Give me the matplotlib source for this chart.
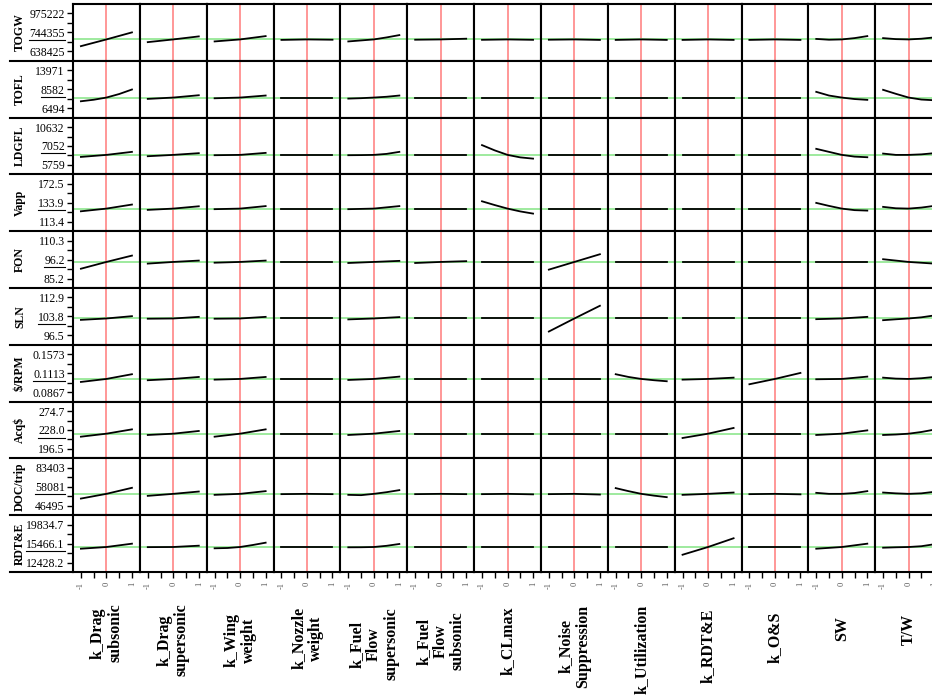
import matplotlib
matplotlib.use("Agg")
import matplotlib.pyplot as plt
from matplotlib.lines import Line2D
import numpy as np

plt.rcParams['font.family'] = ['Liberation Serif', 'DejaVu Serif']

# responses (rows) and their axis ranges / current predicted values
responses = ["TOGW", "TOFL", "LDGFL", "Vapp", "FON", "SLN", "$/RPM", "Acq$", "DOC/trip", "RDT&E"]
y_low = [638425, 6494, 5759, 113.4, 85.2, 96.5, 0.0867, 196.5, 46495, 12428.2]
y_high = [975222, 13971, 10632, 172.5, 110.3, 112.9, 0.1573, 274.7, 83403, 19834.7]
y_current = [744355, 8582, 7052, 133.9, 96.2, 103.8, 0.1113, 228.0, 58081, 15466.1]
label_decimals = [0, 0, 0, 1, 1, 1, 4, 1, 0, 1]

# factors (columns), coded -1 .. 1
factors = ["k_Drag\nsubsonic", "k_Drag\nsupersonic", "k_Wing\nweight", "k_Nozzle\nweight",
           "k_Fuel\nFlow\nsupersonic", "k_Fuel\nFlow\nsubsonic", "k_CLmax", "k_Noise\nSuppression",
           "k_Utilization", "k_RDT&E", "k_O&S", "SW", "T/W"]

# profile traces, one tuple per factor, evenly spaced over -1 .. 1
togw_profile = [
    (684500, 744355, 806900), (720200, 744355, 771200), (726500, 744355, 773800),
    (740000, 744355, 741700), (726500, 735400, 744355, 762200, 782800),
    (741700, 744355, 750600), (740800, 744355, 740800), (741700, 744355, 739900),
    (740000, 744355, 740000), (740000, 744355, 740000), (740000, 744355, 740000),
    (748800, 741700, 744355, 756000, 773800), (756000, 747000, 744355, 750600, 762200),
]
tofl_profile = [
    (7850, 8150, 8582, 9280, 10170), (8320, 8582, 9040), (8440, 8582, 8980),
    (8582, 8582, 8582), (8380, 8460, 8582, 8740, 8980), (8582, 8582, 8582),
    (8582, 8582, 8582), (8582, 8582, 8582), (8582, 8582, 8582), (8582, 8582, 8582),
    (8582, 8582, 8582), (9710, 8980, 8582, 8290, 8130), (10110, 9320, 8582, 8190, 8050),
]
ldgfl_profile = [
    (6790, 7052, 7440), (6880, 7052, 7270), (7010, 7052, 7310), (7052, 7052, 7052),
    (7010, 7025, 7052, 7180, 7440), (7052, 7052, 7052), (8310, 7630, 7052, 6730, 6570),
    (7052, 7052, 7052), (7052, 7052, 7052), (7052, 7052, 7052), (7052, 7052, 7052),
    (7830, 7440, 7052, 6830, 6750), (7220, 7050, 7052, 7120, 7270),
]
vapp_profile = [
    (129.7, 133.9, 140.2), (131.9, 133.9, 137.5), (133.0, 133.9, 137.8), (133.9, 133.9, 133.9),
    (133.0, 133.9, 137.8), (133.9, 133.9, 133.9), (145.3, 139.4, 133.9, 129.5, 126.1),
    (133.9, 133.9, 133.9), (133.9, 133.9, 133.9), (133.9, 133.9, 133.9), (133.9, 133.9, 133.9),
    (142.8, 138.1, 133.9, 131.5, 130.8), (136.6, 134.4, 133.9, 135.5, 138.1),
]
fon_profile = [
    (91.7, 96.2, 100.4), (95.1, 96.2, 97.1), (95.7, 96.2, 97.1), (96.2, 96.2, 96.2),
    (95.5, 96.2, 96.9), (95.5, 96.2, 96.7), (96.2, 96.2, 96.2), (91.1, 96.2, 101.3),
    (96.2, 96.2, 96.2), (96.2, 96.2, 96.2), (96.2, 96.2, 96.2), (96.2, 96.2, 96.2),
    (98.0, 96.2, 95.1),
]
sln_profile = [
    (103.2, 103.8, 104.8), (103.7, 103.8, 104.5), (103.7, 103.8, 104.5), (103.8, 103.8, 103.8),
    (103.4, 103.8, 104.4), (103.8, 103.8, 103.8), (103.8, 103.8, 103.8), (98.15, 103.8, 109.3),
    (103.8, 103.8, 103.8), (103.8, 103.8, 103.8), (103.8, 103.8, 103.8), (103.5, 103.8, 104.5),
    (103.06, 103.45, 103.8, 104.3, 105.1),
]
rpm_profile = [
    (0.1057, 0.1113, 0.1201), (0.1089, 0.1113, 0.1150), (0.1100, 0.1113, 0.1150),
    (0.1113, 0.1113, 0.1113), (0.1094, 0.1113, 0.1156), (0.1113, 0.1113, 0.1113),
    (0.1113, 0.1113, 0.1113), (0.1113, 0.1113, 0.1113), (0.1201, 0.1150, 0.1113, 0.1089, 0.1070),
    (0.1100, 0.1113, 0.1137), (0.1014, 0.1113, 0.1225), (0.1107, 0.1113, 0.1156),
    (0.1137, 0.1119, 0.1113, 0.1126, 0.1150),
]
acq_profile = [
    (221.8, 228.0, 236.9), (225.3, 228.0, 233.6), (221.8, 228.0, 236.9), (228.0, 228.0, 228.0),
    (225.3, 228.0, 233.6), (228.0, 228.0, 228.0), (228.0, 228.0, 228.0), (228.0, 228.0, 228.0),
    (228.0, 228.0, 228.0), (219.1, 228.0, 239.8), (228.0, 228.0, 228.0), (225.3, 228.0, 234.8),
    (225.3, 226.3, 228.0, 231.5, 236.3),
]
doc_profile = [
    (53480, 58081, 63960), (56120, 58081, 60330), (57100, 58081, 60720), (57790, 58081, 57790),
    (57100, 56800, 58081, 59700, 61700), (57790, 58081, 57790), (57790, 58081, 57590),
    (57790, 58081, 57400), (63660, 60720, 58081, 56320, 54850), (57100, 58081, 59350),
    (57790, 58081, 57590), (59060, 58080, 58081, 58860, 60720), (59350, 58570, 58081, 58570, 60040),
]
rdte_profile = [
    (15132, 15466.1, 16115), (15440, 15466.1, 15722), (15211, 15270, 15466.1, 15860, 16311),
    (15466.1, 15466.1, 15466.1), (15407, 15420, 15466.1, 15700, 16056),
    (15466.1, 15466.1, 15466.1), (15466.1, 15466.1, 15466.1), (15466.1, 15466.1, 15466.1),
    (15466.1, 15466.1, 15466.1), (13953, 15466.1, 17176), (15466.1, 15466.1, 15466.1),
    (15132, 15466.1, 16115), (15330, 15410, 15466.1, 15620, 16000),
]
profiles = [togw_profile, tofl_profile, ldgfl_profile, vapp_profile, fon_profile,
            sln_profile, rpm_profile, acq_profile, doc_profile, rdte_profile]

# layout in pixels
W, H = 932, 700
left_px, top_px = 73, 4
col_w, row_h = 66.85, 56.8
factor_label_y = [633, 640, 640, 638, 644, 641, 641, 646, 649, 646, 637, 629, 629]

fig = plt.figure(figsize=(W / 100, H / 100), dpi=100)
n_rows, n_cols = len(responses), len(factors)
mid_labels = []

for r in range(n_rows):
    lo, hi, cur = y_low[r], y_high[r], y_current[r]
    span = hi - lo
    for c in range(n_cols):
        x0 = (left_px + c * col_w) / W
        y0 = 1 - (top_px + (r + 1) * row_h) / H
        ax = fig.add_axes([x0, y0, col_w / W, row_h / H])
        ax.set_xlim(-1.31, 1.31)
        ax.set_ylim(lo - 0.25 * span, hi + 0.25 * span)
        ax.axvline(0, color='#ff8f8f', lw=1.3, zorder=1)
        ax.axhline(cur, color='#96e896', lw=1.3, zorder=1)
        vals = profiles[r][c]
        ax.plot(np.linspace(-1, 1, len(vals)), vals, color='black', lw=1.3, zorder=3)
        for s in ax.spines.values():
            s.set_linewidth(1.5)
        ax.tick_params(which='both', direction='out', length=4, width=1)
        if c == 0:
            d = label_decimals[r]
            ax.set_yticks([lo, lo + span / 4, lo + span / 2, lo + 3 * span / 4, hi])
            ax.set_yticklabels([f"{lo:.{d}f}", "", f"{cur:.{d}f}", "", f"{hi:.{d}f}"], fontsize=8.5)
            ax.tick_params(axis='y', pad=2)
            mid_labels.append(ax.get_yticklabels()[2])
        else:
            ax.set_yticks([])
        if r == n_rows - 1:
            ax.set_xticks([-1, 0, 1])
            ax.set_xticks([-0.5, 0.5], minor=True)
            ax.set_xticklabels(["-1", "0", "1"], rotation=90, fontsize=6, color='#555555')
            ax.tick_params(axis='x', pad=3)
        else:
            ax.set_xticks([])

    # row name and separator lines in the label column
    yc = 1 - (top_px + (r + 0.5) * row_h) / H
    fig.text(20 / W, yc, responses[r], rotation=90, ha='center', va='center',
             fontsize=8.5, fontweight='bold')
    yb = 1 - (top_px + (r + 1) * row_h) / H
    fig.add_artist(Line2D([10 / W, left_px / W], [yb, yb], color='black', lw=1.5))

for c in range(n_cols):
    xc = (left_px + (c + 0.5) * col_w) / W
    fig.text(xc, 1 - factor_label_y[c] / H, factors[c], rotation=90, ha='center', va='center',
             multialignment='center', fontsize=11.5, fontweight='bold', linespacing=1.1)

# underline the current value labels
fig.canvas.draw()
renderer = fig.canvas.get_renderer()
inv = fig.transFigure.inverted()
for lab in mid_labels:
    bb = lab.get_window_extent(renderer)
    (ux0, uy), (ux1, _) = inv.transform([(bb.x0, bb.y0), (bb.x1, bb.y0)])
    fig.add_artist(Line2D([ux0, ux1], [uy, uy], color='black', lw=0.8))

fig.savefig("out.png", dpi=100)
